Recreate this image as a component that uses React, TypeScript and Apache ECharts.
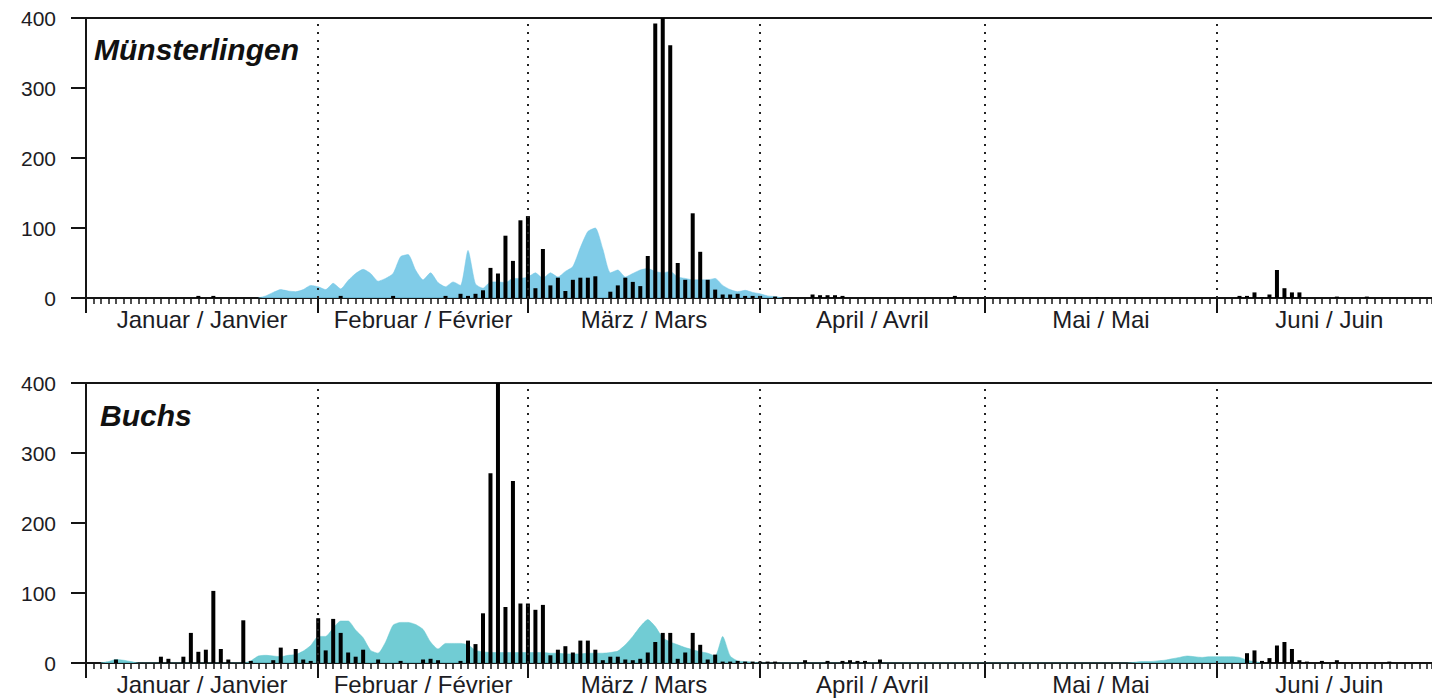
import React, { useEffect, useRef } from "react";
import * as echarts from "echarts";

// Day index = days since 1 January (0 = 1 Jan)
const DAY_MAX = 179.7;
const monthNames = ["Januar / Janvier", "Februar / Février", "März / Mars", "April / Avril", "Mai / Mai", "Juni / Juin"];
const monthStarts = [0, 31, 59, 90, 120, 151];
const monthMids = [15.5, 45, 74.5, 105, 135.5, 166];
const yTicks = [0, 100, 200, 300, 400];
const stations = ["Münsterlingen", "Buchs"];

// Daily counts (black bars) — [day, value]
const muensterlingenDaily: [number, number][] = [
  [15, 3], [17, 3], [34, 3], [41, 3], [48, 3], [50, 6], [51, 3], [52, 6], [53, 11], [54, 43], [55, 35], [56, 89],
  [57, 53], [58, 111], [59, 117], [60, 14], [61, 70], [62, 18], [63, 29], [64, 10], [65, 26], [66, 29], [67, 29],
  [68, 31], [70, 9], [71, 18], [72, 29], [73, 23], [74, 17], [75, 60], [76, 392], [77, 400], [78, 361], [79, 50],
  [80, 26], [81, 121], [82, 66], [83, 26], [84, 12], [85, 5], [86, 5], [87, 6], [88, 3], [89, 3], [90, 3], [92, 2],
  [97, 5], [98, 4], [99, 4], [100, 4], [101, 3], [116, 3], [135, 1], [154, 3], [155, 3], [156, 8], [157, 1],
  [158, 5], [159, 40], [160, 14], [161, 8], [162, 8], [167, 2], [171, 2],
];

const buchsDaily: [number, number][] = [
  [4, 5], [10, 9], [11, 6], [13, 9], [14, 43], [15, 16], [16, 19], [17, 103], [18, 20], [19, 5], [21, 61], [22, 3],
  [25, 4], [26, 22], [28, 20], [29, 5], [30, 3], [31, 64], [32, 18], [33, 63], [34, 43], [35, 15], [36, 9], [37, 19],
  [39, 5], [42, 3], [45, 5], [46, 6], [47, 4], [50, 3], [51, 32], [52, 27], [53, 71], [54, 271], [55, 400], [56, 80],
  [57, 260], [58, 85], [59, 85], [60, 76], [61, 83], [62, 11], [63, 19], [64, 24], [65, 15], [66, 32], [67, 32],
  [68, 19], [69, 4], [70, 9], [71, 9], [72, 5], [73, 4], [74, 6], [75, 15], [76, 30], [77, 43], [78, 43], [79, 6],
  [80, 15], [81, 43], [82, 26], [83, 5], [84, 12], [85, 2], [86, 2], [87, 3], [88, 2], [89, 2], [90, 2], [91, 2],
  [92, 2], [96, 4], [99, 3], [101, 3], [102, 4], [103, 3], [104, 3], [106, 5], [155, 14], [156, 18], [157, 3],
  [158, 7], [159, 25], [160, 30], [161, 20], [162, 4], [163, 2], [165, 3], [167, 4], [174, 2],
];

// Long-term reference (blue area) — [day, value]
const muensterlingenRef: [number, number][] = [
  [23, 0], [24, 3], [25, 8], [26, 12], [27, 10], [28, 9], [29, 12], [30, 18], [31, 16], [32, 12], [33, 21], [34, 13],
  [35, 25], [36, 35], [37, 41], [38, 35], [39, 24], [40, 28], [41, 35], [42, 59], [43, 62], [44, 40], [45, 26],
  [46, 36], [47, 22], [48, 16], [49, 23], [50, 18], [51, 68], [52, 20], [53, 14], [54, 23], [55, 23], [56, 22],
  [57, 28], [58, 28], [59, 30], [60, 36], [61, 28], [62, 36], [63, 30], [64, 38], [65, 45], [66, 72], [67, 95],
  [68, 100], [69, 70], [70, 36], [71, 40], [72, 30], [73, 35], [74, 40], [75, 42], [76, 38], [77, 36], [78, 38],
  [79, 30], [80, 28], [81, 26], [82, 26], [83, 26], [84, 28], [85, 18], [86, 12], [87, 9], [88, 11], [89, 8],
  [90, 6], [91, 3], [92, 2], [93, 0],
];

const buchsRef: [number, number][] = [
  [2, 0], [3, 2], [4, 5], [5, 4], [6, 2], [7, 0], [21, 0], [22, 3], [23, 10], [24, 11], [25, 10], [26, 9], [27, 11],
  [28, 12], [29, 17], [30, 25], [31, 38], [32, 38], [33, 50], [34, 60], [35, 60], [36, 47], [37, 36], [38, 18],
  [39, 14], [40, 30], [41, 54], [42, 58], [43, 58], [44, 55], [45, 48], [46, 30], [47, 20], [48, 28], [49, 28],
  [50, 28], [51, 26], [52, 18], [53, 16], [54, 15], [55, 15], [56, 15], [57, 15], [58, 15], [59, 15], [60, 15],
  [61, 15], [62, 14], [63, 14], [64, 13], [65, 13], [66, 13], [67, 14], [68, 14], [69, 14], [70, 15], [71, 17],
  [72, 26], [73, 38], [74, 52], [75, 62], [76, 52], [77, 36], [78, 30], [79, 26], [80, 22], [81, 19], [82, 16],
  [83, 14], [84, 10], [85, 38], [86, 10], [87, 3], [88, 2], [89, 1], [90, 0], [139, 0], [140, 1], [141, 2],
  [142, 2], [143, 3], [144, 4], [145, 6], [146, 8], [147, 10], [148, 9], [149, 8], [150, 9], [151, 9], [152, 9],
  [153, 9], [154, 8], [155, 4], [156, 2], [157, 0],
];

const dailySets = [muensterlingenDaily, buchsDaily];
const refSets = [muensterlingenRef, buchsRef];
const refColors = ["#72c6e6", "#62c7cf"];

const FONT = "'Liberation Sans', Arial, sans-serif";
const INK = "#151515";

export default function App() {
  const ref = useRef<HTMLDivElement>(null);
  useEffect(() => {
    if (!ref.current) return;
    const chart = echarts.init(ref.current, null, { renderer: "svg" });
    const gridTops = [18, 383];
    const grid = gridTops.map((t) => ({ left: 86, right: 0, top: t, height: 280, containLabel: false }));

    const xAxis: any[] = [];
    const yAxis: any[] = [];
    const series: any[] = [];
    gridTops.forEach((_, g) => {
      // day ticks axis
      xAxis.push({
        gridIndex: g, type: "value", min: 0, max: DAY_MAX, interval: 1, position: "bottom",
        axisLine: { show: true, onZero: false, lineStyle: { color: INK, width: 2 } },
        axisTick: { show: true, length: 6, lineStyle: { color: INK, width: 1.5 } },
        axisLabel: { show: false }, splitLine: { show: false },
      });
      // month ticks + labels
      xAxis.push({
        gridIndex: g, type: "value", min: 0, max: DAY_MAX, position: "bottom",
        axisLine: { show: false },
        axisTick: { show: true, length: 15, customValues: monthStarts, lineStyle: { color: INK, width: 2 } },
        axisLabel: {
          show: true, customValues: monthMids, margin: 9, fontSize: 24, fontFamily: FONT, color: "#1c1c24",
          formatter: (v: number) => monthNames[monthMids.indexOf(v)] ?? "",
        },
        splitLine: { show: false },
      });
      // top frame line
      xAxis.push({
        gridIndex: g, type: "value", min: 0, max: DAY_MAX, position: "top",
        axisLine: { show: true, lineStyle: { color: INK, width: 2 } },
        axisTick: { show: false }, axisLabel: { show: false }, splitLine: { show: false },
      });
      yAxis.push({
        gridIndex: g, type: "value", min: 0, max: 400, interval: 100,
        axisLine: { show: true, lineStyle: { color: INK, width: 2 } },
        axisTick: { show: true, length: 15, lineStyle: { color: INK, width: 2 } },
        axisLabel: { margin: 30, fontSize: 21, fontFamily: FONT, color: "#1c1c24", customValues: yTicks },
        splitLine: { show: false },
      });
      series.push({
        type: "line", xAxisIndex: g * 3, yAxisIndex: g, data: refSets[g], showSymbol: false, smooth: 0.2,
        lineStyle: { width: 0.5, color: refColors[g] }, areaStyle: { color: refColors[g], opacity: 0.9 },
        z: 1, silent: true,
      });
      series.push({
        type: "bar", xAxisIndex: g * 3, yAxisIndex: g, data: dailySets[g], barWidth: 4,
        itemStyle: { color: "#000" }, z: 3, silent: true,
        markLine: {
          silent: true, symbol: ["none", "none"], label: { show: false },
          lineStyle: { type: [2, 6], width: 2, color: "#222" },
          data: monthStarts.slice(1).map((m) => ({ xAxis: m })),
        },
      });
    });

    chart.setOption({
      animation: false,
      backgroundColor: "#fff",
      title: stations.map((s, i) => ({
        text: s, left: i === 0 ? 94 : 100, top: i === 0 ? 34 : 400, padding: 0,
        textStyle: { fontSize: 30, fontStyle: "italic", fontWeight: "bold", fontFamily: FONT, color: "#111" },
      })),
      grid, xAxis, yAxis, series,
    });
    return () => chart.dispose();
  }, []);
  return <div ref={ref} style={{ position: "fixed", left: 0, top: 0, width: 1432, height: 699 }} />;
}
